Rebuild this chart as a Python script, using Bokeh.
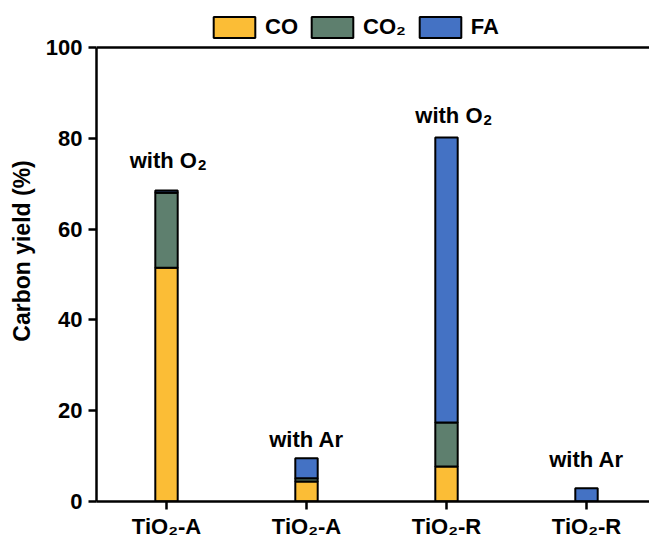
from bokeh.plotting import figure
from bokeh.models import (Range1d, FixedTicker, Legend, LegendItem, ColumnDataSource, Span)
from bokeh.core.properties import value
from bokeh.embed import file_html
from bokeh.resources import INLINE

# ---- data ----
samples = ["TiO₂-A", "TiO₂-A", "TiO₂-R", "TiO₂-R"]
conditions = ["with O", "with Ar", "with O", "with Ar"]
cond_sub = ["2", "", "2", ""]
co = [51.5, 4.4, 7.7, 0.0]
co2 = [16.5, 0.7, 9.7, 0.0]
fa = [0.5, 4.4, 62.8, 2.9]
series_names = ["CO", "CO₂", "FA"]
colors = ["#FBBD36", "#5E7F6E", "#4472C4"]
y_ticks = [0, 20, 40, 60, 80, 100]

# annotation placement (data units)
label_x = [0.01, 1.0, 2.05, 3.0]
label_y = [75.2, 13.7, 85.1, 9.3]

FONT = "Liberation Sans"
xs = list(range(len(samples)))

# frame spans the whole height above the x axis; the legend sits in the headroom above 100
p = figure(width=649, height=541, output_backend="svg", toolbar_location=None,
           x_range=Range1d(-0.5, 3.45), y_range=Range1d(0, 110.35),
           min_border_left=96, min_border_right=0, min_border_top=0,
           min_border_bottom=40)
p.outline_line_color = None
p.xgrid.visible = False
p.ygrid.visible = False

src = ColumnDataSource(dict(x=xs, CO=co, CO2=co2, FA=fa))
rends = p.vbar_stack(["CO", "CO2", "FA"], x="x", width=0.16, source=src,
                     fill_color=colors, line_color="black", line_width=2)

# top border line at 100
p.add_layout(Span(location=100, dimension="width", line_color="black", line_width=2.5))

# axes
for ax in (p.xaxis[0], p.yaxis[0]):
    ax.axis_line_width = 2.5
    ax.axis_line_color = "black"
    ax.major_tick_line_width = 2.5
    ax.major_tick_line_color = "black"
    ax.major_tick_out = 8
    ax.major_tick_in = 0
    ax.minor_tick_line_color = None
    ax.major_label_text_font = FONT
    ax.major_label_text_font_style = "bold"
    ax.major_label_text_font_size = "22px"
    ax.major_label_text_color = "black"

p.xaxis.ticker = FixedTicker(ticks=xs)
p.xaxis.major_label_overrides = {i: s for i, s in enumerate(samples)}
p.xaxis.major_label_standoff = 4
p.yaxis.ticker = FixedTicker(ticks=y_ticks)
p.yaxis.bounds = (0, 100)
p.yaxis.major_label_standoff = 6
p.yaxis.axis_label = "Carbon yield (%)"
p.yaxis.axis_label_text_font = FONT
p.yaxis.axis_label_text_font_style = "bold"
p.yaxis.axis_label_text_font_size = "23px"
p.yaxis.axis_label_text_color = "black"
p.yaxis.axis_label_standoff = 8

# condition labels
idx_sub = [i for i in range(len(cond_sub)) if cond_sub[i]]
idx_plain = [i for i in range(len(cond_sub)) if not cond_sub[i]]
common = dict(text_font=value(FONT), text_font_style="bold", text_color="black",
              text_baseline="alphabetic")
p.text(x="x", y="y", text="t", source=ColumnDataSource(dict(
    x=[label_x[i] for i in idx_sub], y=[label_y[i] for i in idx_sub],
    t=[conditions[i] for i in idx_sub])),
    text_align="right", x_offset=29, text_font_size="22px", **common)
p.text(x="x", y="y", text="t", source=ColumnDataSource(dict(
    x=[label_x[i] for i in idx_sub], y=[label_y[i] for i in idx_sub],
    t=[cond_sub[i] for i in idx_sub])),
    text_align="left", x_offset=30, y_offset=5, text_font_size="15px", **common)
p.text(x="x", y="y", text="t", source=ColumnDataSource(dict(
    x=[label_x[i] for i in idx_plain], y=[label_y[i] for i in idx_plain],
    t=[conditions[i] for i in idx_plain])),
    text_align="center", text_font_size="22px", **common)

legend = Legend(items=[LegendItem(label=n, renderers=[r]) for n, r in zip(series_names, rends)],
                orientation="horizontal", location=(112, 461),
                glyph_width=52, glyph_height=26, spacing=8, label_standoff=5,
                padding=0, margin=0, border_line_color=None,
                background_fill_alpha=0,
                label_text_font=FONT, label_text_font_style="bold",
                label_text_font_size="22px", label_text_color="black")
p.add_layout(legend, "center")

open("out.html", "w").write(file_html(p, INLINE))
